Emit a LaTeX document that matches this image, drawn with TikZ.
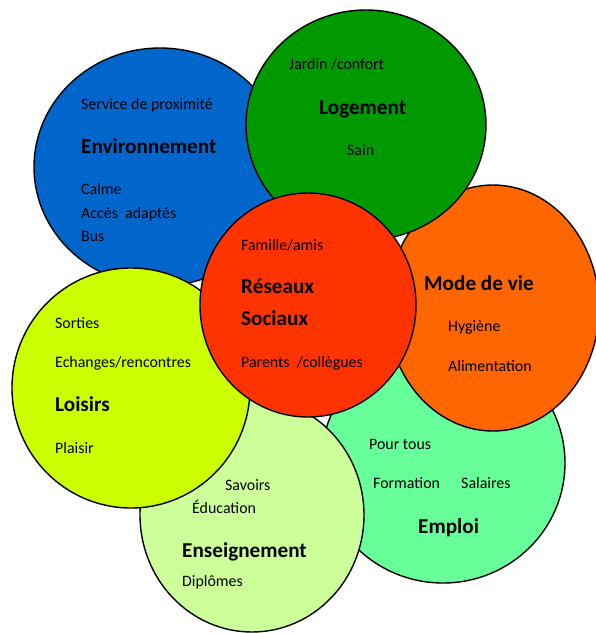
\documentclass[tikz,border=0pt]{standalone}
\usepackage{fontspec}
\setmainfont{Carlito}
\usetikzlibrary{shapes.geometric}

\definecolor{envblue}{HTML}{0066CC}
\definecolor{logegreen}{HTML}{009900}
\definecolor{vieorange}{HTML}{FF6600}
\definecolor{reseaured}{HTML}{FF3300}
\definecolor{loisirlime}{HTML}{CCFF00}
\definecolor{enspale}{HTML}{CCFF99}
\definecolor{emploimint}{HTML}{66FF99}

\begin{document}
\begin{tikzpicture}[x=1pt,y=-1pt,
  petal/.style={ellipse,draw=black,line width=1.4pt,inner sep=0pt},
  item/.style={anchor=base west,inner sep=0pt,font=\fontsize{15.9}{19}\selectfont},
  title/.style={anchor=base west,inner sep=0pt,font=\fontsize{21.2}{25}\selectfont\bfseries}]
  \useasboundingbox (0,0) rectangle (596,633);

  % petals, back to front
  \node[petal,fill=emploimint,minimum width=244pt,minimum height=240pt] (emploi) at (443,463) {};
  \node[petal,fill=vieorange,minimum width=212pt,minimum height=246pt] (vie) at (493,308) {};
  \node[petal,fill=envblue,minimum width=252pt,minimum height=238pt] (env) at (160,167) {};
  \node[petal,fill=logegreen,minimum width=240pt,minimum height=230pt] (loge) at (366,125) {};
  \node[petal,fill=enspale,minimum width=224pt,minimum height=234pt] (ens) at (252,515) {};
  \node[petal,fill=loisirlime,minimum width=238pt,minimum height=240pt] (loisir) at (131,388) {};
  \node[petal,fill=reseaured,minimum width=216pt,minimum height=224pt] (reseau) at (308,305) {};

  % Environnement
  \node[item] (envserv) at (81,109) {Service de proximité};
  \node[title] (envtitle) at (81,153) {Environnement};
  \node[item] (envcalme) at (81,194) {Calme};
  \node[item] (envacces) at (81,218) {Accès\ \ adaptés};
  \node[item] (envbus) at (81,241) {Bus};

  % Logement
  \node[item] (logejardin) at (289,69) {Jardin /confort};
  \node[title] (logetitle) at (319,114) {Logement};
  \node[item] (logesain) at (347,155) {Sain};

  % Mode de vie
  \node[title] (vietitle) at (424,290) {Mode de vie};
  \node[item] (viehyg) at (448,331) {Hygiène};
  \node[item] (viealim) at (448,371) {Alimentation};

  % Reseaux sociaux
  \node[item] (reseaufam) at (241,250) {Famille/amis};
  \node[title] (reseautitle) at (241,293) {Réseaux};
  \node[title] (reseautitleb) at (241,325) {Sociaux};
  \node[item] (reseaupar) at (241,367) {Parents\ \ /collègues};

  % Loisirs
  \node[item] (loisirsort) at (55,328) {Sorties};
  \node[item] (loisirech) at (55,367) {Echanges/rencontres};
  \node[title] (loisirtitle) at (55,411) {Loisirs};
  \node[item] (loisirplai) at (55,453) {Plaisir};

  % Enseignement
  \node[item] (enssav) at (225,490) {Savoirs};
  \node[item] (ensedu) at (192,513) {Éducation};
  \node[title] (enstitle) at (182,557) {Enseignement};
  \node[item] (ensdip) at (182,586) {Diplômes};

  % Emploi
  \node[item] (emploitous) at (369,449) {Pour tous};
  \node[item] (emploiform) at (373,488) {Formation};
  \node[item] (emploisal) at (461,488) {Salaires};
  \node[title] (emploititle) at (418,533) {Emploi};
\end{tikzpicture}
\end{document}
